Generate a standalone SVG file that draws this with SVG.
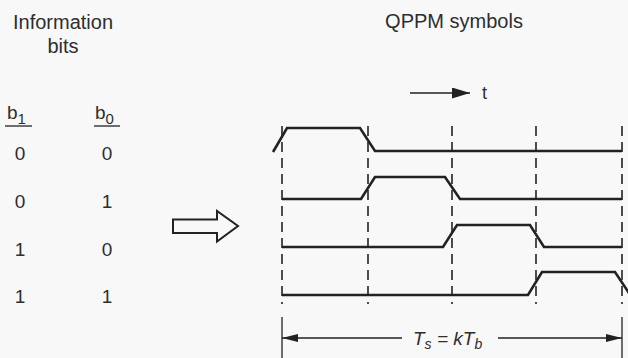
<svg xmlns="http://www.w3.org/2000/svg" width="628" height="358" viewBox="0 0 628 358">
<style>
.t{font-family:"Liberation Sans",Arial,sans-serif;fill:#2e2e2e;}
.w{fill:none;stroke:#222;stroke-width:2.6;stroke-linejoin:miter;}
.d{fill:none;stroke:#222;stroke-width:1.6;stroke-dasharray:10 6;}
.s{fill:none;stroke:#222;stroke-width:1.3;}
</style>
<defs>
<marker id="ah" viewBox="0 0 16 8" refX="16" refY="4" markerWidth="16" markerHeight="8" markerUnits="userSpaceOnUse" orient="auto-start-reverse">
<path d="M0,0 L16,4 L0,8 Z" fill="#222"/>
</marker>
<marker id="ahb" viewBox="0 0 18 11" refX="18" refY="5.5" markerWidth="18" markerHeight="11" markerUnits="userSpaceOnUse" orient="auto">
<path d="M0,0 L18,5.5 L0,11 Z" fill="#222"/>
</marker>
</defs>
<rect width="628" height="358" fill="#f8f8f8"/>
<g id="title-bits">
<text class="t" x="63" y="29" font-size="20" text-anchor="middle">Information</text>
<text class="t" x="63" y="53" font-size="20" text-anchor="middle">bits</text>
</g>
<g id="title-qppm">
<text class="t" x="454" y="28" font-size="20" text-anchor="middle">QPPM symbols</text>
</g>
<g id="bits-table">
<text class="t" x="7" y="119" font-size="19">b<tspan font-size="15" dy="5">1</tspan></text>
<line class="s" x1="5" y1="126" x2="32" y2="126"/>
<text class="t" x="95" y="119" font-size="19">b<tspan font-size="15" dy="5">0</tspan></text>
<line class="s" x1="94" y1="126" x2="120" y2="126"/>
<g font-size="19" text-anchor="middle">
<text class="t" x="20" y="160">0</text><text class="t" x="107" y="160">0</text>
<text class="t" x="20" y="208">0</text><text class="t" x="107" y="208">1</text>
<text class="t" x="20" y="256">1</text><text class="t" x="107" y="256">0</text>
<text class="t" x="20" y="303">1</text><text class="t" x="107" y="303">1</text>
</g>
</g>
<g id="map-arrow">
<path d="M173,219.5 H217 V211 L238,226 L217,241.5 V233 H173 Z" fill="none" stroke="#222" stroke-width="2"/>
</g>
<g id="time-axis">
<line class="s" x1="410" y1="93" x2="470" y2="93" stroke-width="2.2" marker-end="url(#ahb)"/>
<text class="t" x="482" y="99" font-size="18">t</text>
</g>
<g id="grid">
<line class="d" x1="282" y1="126" x2="282" y2="304"/>
<line class="d" x1="368" y1="126" x2="368" y2="304"/>
<line class="d" x1="452" y1="126" x2="452" y2="304"/>
<line class="d" x1="536" y1="126" x2="536" y2="304"/>
<line class="d" x1="622" y1="126" x2="622" y2="304"/>
</g>
<g id="waveforms">
<path id="w00" class="w" d="M273,152 L287,128 H360 L375,151 H622"/>
<path id="w01" class="w" d="M282,199 H361 L375,177 H445 L460,199 H622"/>
<path id="w10" class="w" d="M282,247 H443 L457,225 H530 L544,247 H622"/>
<path id="w11" class="w" d="M282,295 H528 L542,272 H615 L629,293"/>
</g>
<g id="connectors">
<line class="s" x1="282" y1="317" x2="282" y2="358"/>
<line class="s" x1="622" y1="317" x2="622" y2="358"/>
<line class="s" x1="282" y1="338" x2="402" y2="338" marker-start="url(#ah)"/>
<line class="s" x1="498" y1="338" x2="622" y2="338" marker-end="url(#ah)"/>
</g>
<g id="period-label">
<text class="t" x="413" y="345" font-size="19" font-style="italic">T<tspan font-size="14" dy="4">s</tspan><tspan dy="-4"> = kT</tspan><tspan font-size="14" dy="4">b</tspan></text>
</g>
</svg>
